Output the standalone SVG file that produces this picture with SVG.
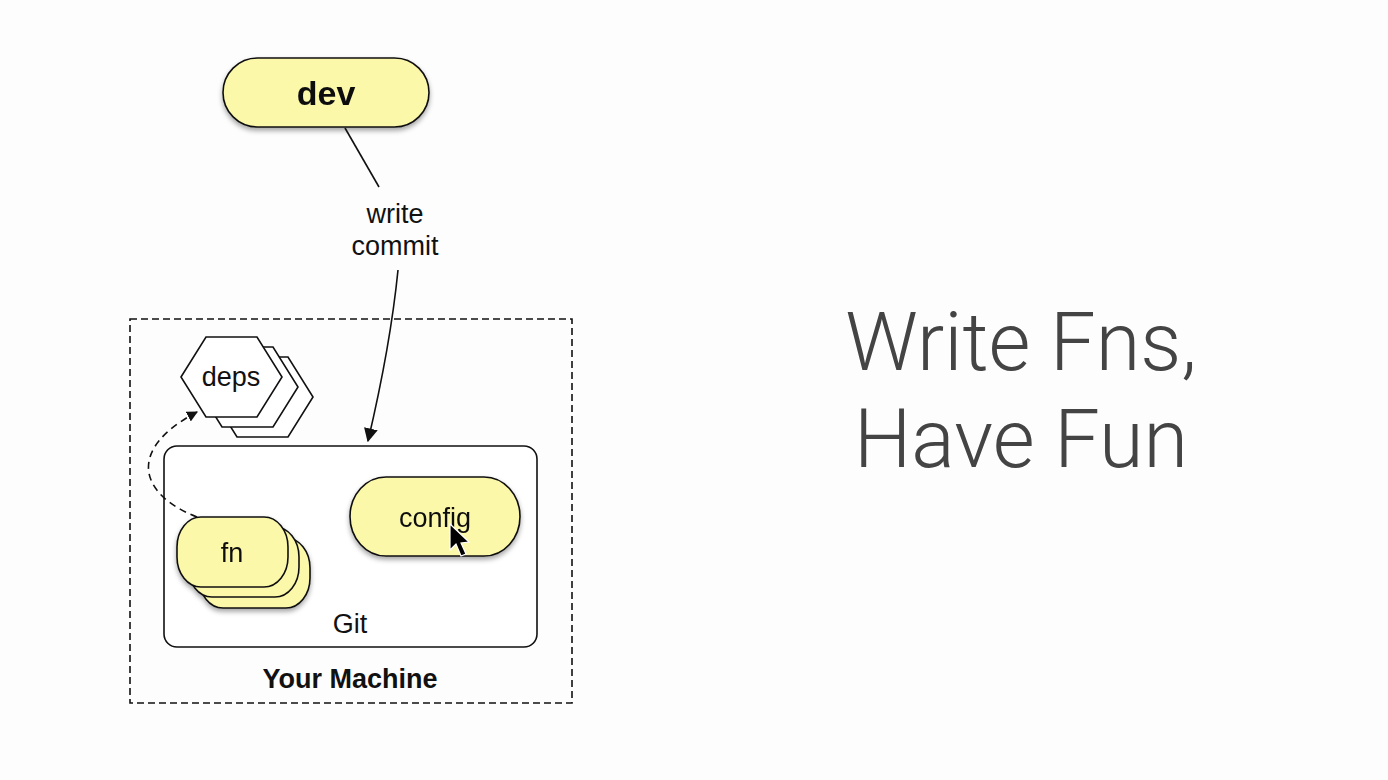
<svg xmlns="http://www.w3.org/2000/svg" width="1388" height="780" viewBox="0 0 1388 780">
<style>
.y{fill:#fcf8aa;stroke:#111;stroke-width:1.6}
.w{fill:#fff;stroke:#111;stroke-width:1.6}
.t{font-family:"Liberation Sans",Arial,sans-serif;fill:#111;text-anchor:middle;font-size:27px}
.big{font-family:Roboto,"Liberation Sans",sans-serif;font-weight:300;fill:#444;font-size:81px}
.c{fill:none;stroke:#111;stroke-width:1.6}
</style>
<defs>
<filter id="sh" x="-20%" y="-20%" width="140%" height="150%">
<feDropShadow dx="0" dy="3" stdDeviation="2.5" flood-color="#000" flood-opacity="0.35"/>
</filter>
<marker id="ah" viewBox="0 0 10 10" refX="9" refY="5" markerWidth="11" markerHeight="11" markerUnits="userSpaceOnUse" orient="auto">
<path d="M0,0 L10,5 L0,10 z" fill="#111"/>
</marker>
<marker id="ah2" viewBox="0 0 10 10" refX="9" refY="5" markerWidth="14" markerHeight="14" markerUnits="userSpaceOnUse" orient="auto">
<path d="M0,0 L10,5 L0,10 z" fill="#111"/>
</marker>
</defs>
<rect width="1388" height="780" fill="#fdfdfd"/>

<g id="machine">
<rect x="130" y="319" width="442" height="384" fill="none" stroke="#111" stroke-width="1.6" stroke-dasharray="7,4"/>
<text class="t" x="350" y="688" font-weight="bold">Your Machine</text>
</g>

<g id="git">
<rect class="w" x="164" y="446" width="373" height="201" rx="13"/>
<text class="t" x="350" y="633">Git</text>
</g>

<g id="deps">
<polygon class="w" points="212,397 237,357 288,357 313,397 288,437 237,437"/>
<polygon class="w" points="197,387 222,347 273,347 298,387 273,427 222,427"/>
<polygon class="w" points="181,377 206,337 257,337 282,377 257,417 206,417"/>
<text class="t" x="231" y="386">deps</text>
</g>

<g id="fn" filter="url(#sh)">
<rect class="y" x="199" y="538" width="111" height="70" rx="24" ry="30"/>
<rect class="y" x="188" y="527" width="111" height="70" rx="24" ry="30"/>
<rect class="y" x="177" y="517" width="111" height="70" rx="24" ry="30"/>
<text class="t" x="232" y="562">fn</text>
</g>

<g id="config" filter="url(#sh)">
<rect class="y" x="350" y="477" width="170" height="79" rx="36" ry="39.5"/>
<text class="t" x="435" y="527">config</text>
</g>

<g id="dev" filter="url(#sh)">
<rect class="y" x="223" y="58" width="206" height="69" rx="34.5" stroke-width="2"/>
<text class="t" x="326" y="105" style="font-size:34px;font-weight:bold">dev</text>
</g>

<g id="connectors">
<line class="c" x1="345" y1="128" x2="379" y2="187"/>
<path class="c" d="M398,270 C392,330 380,390 368,441" marker-end="url(#ah2)"/>
<path class="c" d="M197,517 C140,495 125,450 197,412" stroke-dasharray="7,5" marker-end="url(#ah)"/>
<text class="t" x="395" y="223">write</text>
<text class="t" x="395" y="255">commit</text>
</g>

<g id="title">
<text class="big" x="1021" y="370" text-anchor="middle">Write Fns,</text>
<text class="big" x="1021" y="467" text-anchor="middle">Have Fun</text>
</g>

<g id="cursor">
<path d="M450,524 L450,550 L456,544 L461,556 L466,554 L461,543 L469,542 Z" fill="#000" stroke="#fff" stroke-width="1.2"/>
</g>
</svg>
